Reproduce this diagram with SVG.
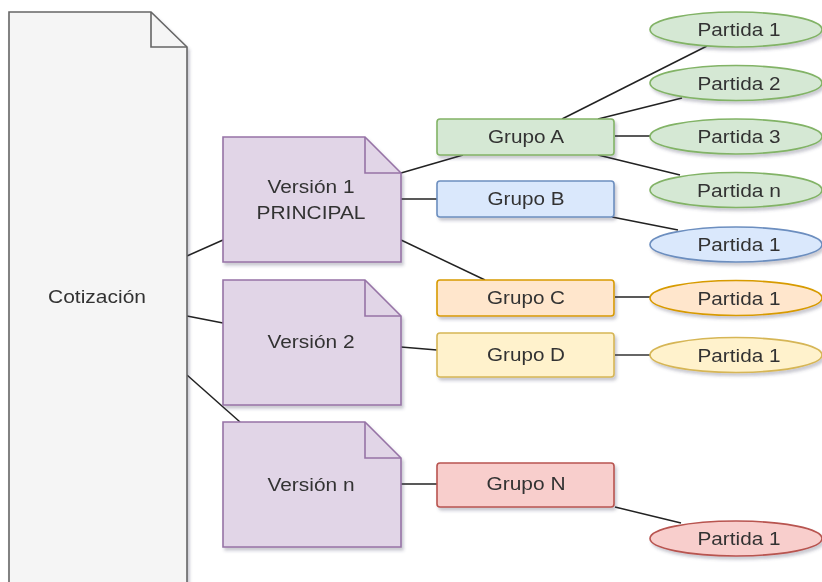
<svg xmlns="http://www.w3.org/2000/svg" width="822" height="582" viewBox="0 0 822 582">
<defs>
<filter id="sh" x="-10%" y="-10%" width="130%" height="140%">
<feDropShadow dx="2" dy="3" stdDeviation="1.5" flood-color="#404060" flood-opacity="0.28"/>
</filter>
</defs>
<style>
text{font-family:"Liberation Sans",Arial,sans-serif;font-size:17.5px;fill:#333333;text-anchor:middle}
.doc{fill:#f5f5f5;stroke:#666666;stroke-width:1.6}
.ver{fill:#e1d5e7;stroke:#9673a6;stroke-width:1.6}
.g{fill:#d5e8d4;stroke:#82b366;stroke-width:1.6}
.b{fill:#dae8fc;stroke:#6c8ebf;stroke-width:1.6}
.o{fill:#ffe6cc;stroke:#d79b00;stroke-width:1.6}
.y{fill:#fff2cc;stroke:#d6b656;stroke-width:1.6}
.r{fill:#f8cecc;stroke:#b85450;stroke-width:1.6}
.fold{fill:none}
.e{stroke:#222222;stroke-width:1.5;fill:none}
</style>
<rect width="822" height="582" fill="#ffffff"/>
<g id="connectors">
<line class="e" x1="187" y1="256" x2="223" y2="240"/>
<line class="e" x1="187" y1="316" x2="223" y2="323"/>
<line class="e" x1="187" y1="375" x2="240" y2="422"/>
<line class="e" x1="401" y1="173" x2="463" y2="155"/>
<line class="e" x1="401" y1="199" x2="437" y2="199"/>
<line class="e" x1="401" y1="240" x2="485" y2="280"/>
<line class="e" x1="401" y1="347" x2="437" y2="350"/>
<line class="e" x1="401" y1="484" x2="437" y2="484"/>
<line class="e" x1="562" y1="119" x2="707" y2="46"/>
<line class="e" x1="598" y1="119" x2="682" y2="98"/>
<line class="e" x1="615" y1="136" x2="650" y2="136"/>
<line class="e" x1="598" y1="155" x2="680" y2="175"/>
<line class="e" x1="612" y1="217" x2="678" y2="230"/>
<line class="e" x1="615" y1="297" x2="650" y2="297"/>
<line class="e" style="stroke:#666666;stroke-width:2" x1="615" y1="355" x2="650" y2="355"/>
<line class="e" x1="615" y1="507" x2="681" y2="523"/>
</g>
<g id="cotizacion" filter="url(#sh)">
<path class="doc" d="M9,12 L151,12 L187,47 L187,600 L9,600 Z"/>
<path class="doc fold" d="M151,12 L151,47 L187,47"/>
<text x="97" y="303" textLength="98" lengthAdjust="spacingAndGlyphs">Cotización</text>
</g>
<g id="version1" filter="url(#sh)">
<path class="ver" d="M223,137 L365,137 L401,173 L401,262 L223,262 Z"/>
<path class="ver fold" d="M365,137 L365,173 L401,173"/>
<text x="311" y="193" textLength="87" lengthAdjust="spacingAndGlyphs">Versión 1</text>
<text x="311" y="219" textLength="109" lengthAdjust="spacingAndGlyphs">PRINCIPAL</text>
</g>
<g id="version2" filter="url(#sh)">
<path class="ver" d="M223,280 L365,280 L401,316 L401,405 L223,405 Z"/>
<path class="ver fold" d="M365,280 L365,316 L401,316"/>
<text x="311" y="348" textLength="87" lengthAdjust="spacingAndGlyphs">Versión 2</text>
</g>
<g id="versionn" filter="url(#sh)">
<path class="ver" d="M223,422 L365,422 L401,458 L401,547 L223,547 Z"/>
<path class="ver fold" d="M365,422 L365,458 L401,458"/>
<text x="311" y="491" textLength="87" lengthAdjust="spacingAndGlyphs">Versión n</text>
</g>
<g id="grupoA" filter="url(#sh)">
<rect class="g" x="437" y="119" width="177" height="36" rx="3"/>
<text x="526" y="143" textLength="76" lengthAdjust="spacingAndGlyphs">Grupo A</text>
</g>
<g id="grupoB" filter="url(#sh)">
<rect class="b" x="437" y="181" width="177" height="36" rx="3"/>
<text x="526" y="205" textLength="77" lengthAdjust="spacingAndGlyphs">Grupo B</text>
</g>
<g id="grupoC" filter="url(#sh)">
<rect class="o" x="437" y="280" width="177" height="36" rx="3"/>
<text x="526" y="304" textLength="78" lengthAdjust="spacingAndGlyphs">Grupo C</text>
</g>
<g id="grupoD" filter="url(#sh)">
<rect class="y" x="437" y="333" width="177" height="44" rx="3"/>
<text x="526" y="361" textLength="78" lengthAdjust="spacingAndGlyphs">Grupo D</text>
</g>
<g id="grupoN" filter="url(#sh)">
<rect class="r" x="437" y="463" width="177" height="44" rx="3"/>
<text x="526" y="490" textLength="79" lengthAdjust="spacingAndGlyphs">Grupo N</text>
</g>
<g id="partidaA1" filter="url(#sh)">
<ellipse class="g" cx="736" cy="29.5" rx="86" ry="17.5"/>
<text x="739" y="36" textLength="83" lengthAdjust="spacingAndGlyphs">Partida 1</text>
</g>
<g id="partidaA2" filter="url(#sh)">
<ellipse class="g" cx="736" cy="83" rx="86" ry="17.5"/>
<text x="739" y="89.5" textLength="83" lengthAdjust="spacingAndGlyphs">Partida 2</text>
</g>
<g id="partidaA3" filter="url(#sh)">
<ellipse class="g" cx="736" cy="136.5" rx="86" ry="17.5"/>
<text x="739" y="143" textLength="83" lengthAdjust="spacingAndGlyphs">Partida 3</text>
</g>
<g id="partidaAn" filter="url(#sh)">
<ellipse class="g" cx="736" cy="190" rx="86" ry="17.5"/>
<text x="739" y="196.5" textLength="84" lengthAdjust="spacingAndGlyphs">Partida n</text>
</g>
<g id="partidaB1" filter="url(#sh)">
<ellipse class="b" cx="736" cy="244.5" rx="86" ry="17.5"/>
<text x="739" y="251" textLength="83" lengthAdjust="spacingAndGlyphs">Partida 1</text>
</g>
<g id="partidaC1" filter="url(#sh)">
<ellipse class="o" cx="736" cy="298" rx="86" ry="17.5"/>
<text x="739" y="304.5" textLength="83" lengthAdjust="spacingAndGlyphs">Partida 1</text>
</g>
<g id="partidaD1" filter="url(#sh)">
<ellipse class="y" cx="736" cy="355" rx="86" ry="17.5"/>
<text x="739" y="361.5" textLength="83" lengthAdjust="spacingAndGlyphs">Partida 1</text>
</g>
<g id="partidaN1" filter="url(#sh)">
<ellipse class="r" cx="736" cy="538.5" rx="86" ry="17.5"/>
<text x="739" y="545" textLength="83" lengthAdjust="spacingAndGlyphs">Partida 1</text>
</g>
</svg>
